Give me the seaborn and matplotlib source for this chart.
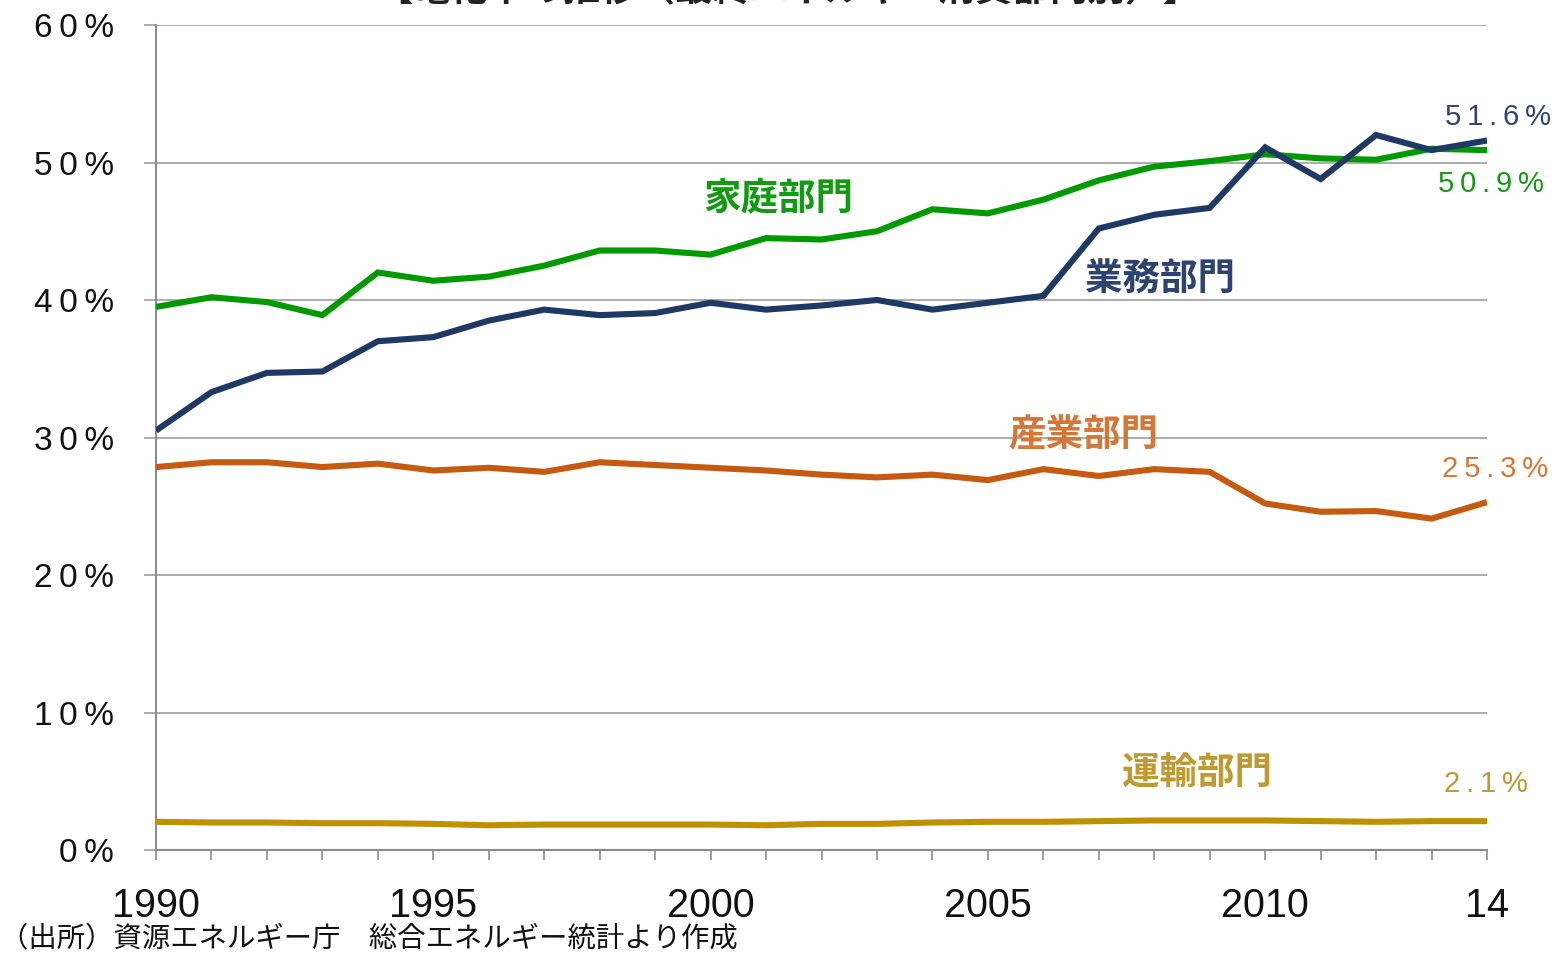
import matplotlib
matplotlib.use("Agg")
import matplotlib.pyplot as plt
import numpy as np
import pandas as pd
import seaborn as sns

years = list(range(1990, 2015))

household = [39.5, 40.2, 39.85, 38.9, 42.0, 41.4, 41.7, 42.5, 43.6, 43.6,
             43.3, 44.5, 44.4, 45.0, 46.6, 46.3, 47.3, 48.7, 49.7, 50.1,
             50.6, 50.3, 50.2, 51.0, 50.9]
commercial = [30.5, 33.3, 34.7, 34.8, 37.0, 37.3, 38.5, 39.3, 38.9, 39.05,
              39.8, 39.3, 39.6, 40.0, 39.3, 39.8, 40.3, 45.2, 46.2, 46.7,
              51.1, 48.8, 52.0, 50.9, 51.6]
industry = [27.85, 28.2, 28.2, 27.85, 28.1, 27.6, 27.8, 27.5, 28.2, 28.0,
            27.8, 27.6, 27.3, 27.1, 27.3, 26.9, 27.7, 27.2, 27.7, 27.5,
            25.2, 24.6, 24.65, 24.1, 25.3]
transport = [2.05, 2.0, 2.0, 1.95, 1.95, 1.9, 1.8, 1.85, 1.85, 1.85,
             1.85, 1.8, 1.9, 1.9, 2.0, 2.05, 2.05, 2.1, 2.15, 2.15,
             2.15, 2.1, 2.05, 2.1, 2.1]

sectors = ["家庭部門", "業務部門", "産業部門", "運輸部門"]
line_colors = ["#009A00", "#1F3864", "#C55A11", "#BF9000"]
text_colors = ["#129A12", "#2E4470", "#D4783A", "#BF9A30"]
end_labels = ["50.9%", "51.6%", "25.3%", "2.1%"]

x_ticks_labeled = [1990, 1995, 2000, 2005, 2010, 2014]
x_tick_text = ["1990", "1995", "2000", "2005", "2010", "14"]
y_ticks = [0, 10, 20, 30, 40, 50, 60]


def spaced(s, gap="\u2009"):
    """Open up the letter spacing of a short label."""
    return gap.join(s)


df = pd.DataFrame({
    "year": years * 4,
    "rate": household + commercial + industry + transport,
    "sector": sum([[s] * len(years) for s in sectors], []),
})

sns.set_theme(style="white")
plt.rcParams["font.family"] = ["Liberation Sans", "Noto Sans CJK JP", "DejaVu Sans"]

fig = plt.figure(figsize=(15.57, 9.55), dpi=100)
ax = fig.add_axes([156 / 1557, 1 - 850 / 955, (1487 - 156) / 1557, (850 - 25) / 955])

sns.lineplot(data=df, x="year", y="rate", hue="sector", hue_order=sectors,
             palette=line_colors, linewidth=4.4, legend=False, ax=ax,
             zorder=3)
for line in ax.lines:
    line.set_solid_capstyle("butt")
    line.set_solid_joinstyle("miter")

ax.set_xlim(1990, 2014)
ax.set_ylim(0, 60)
ax.set_xlabel("")
ax.set_ylabel("")

grid_col = "#A6A6A6"
ax.set_yticks(y_ticks)
ax.set_yticklabels([spaced(f"{v}%") for v in y_ticks])
ax.yaxis.grid(True, color=grid_col, linewidth=1.3, zorder=0)
ax.set_xticks(years, minor=True)
ax.set_xticks(x_ticks_labeled)
ax.set_xticklabels(x_tick_text)

for side in ["top", "right"]:
    ax.spines[side].set_visible(False)
for side in ["left", "bottom"]:
    ax.spines[side].set_color("#8C8C8C")
    ax.spines[side].set_linewidth(1.5)

ax.tick_params(axis="y", which="major", direction="out", length=9, width=1.3,
               color=grid_col, pad=21.5, labelsize=24, labelcolor="#111111", left=True)
ax.tick_params(axis="x", which="both", direction="out", length=7.5, width=1.2,
               color="#8C8C8C", pad=19, labelsize=28.5, labelcolor="#111111", bottom=True)

# Sector names placed beside their lines
name_pos = [(778, 198), (1160, 279), (1083, 435), (1197, 773)]
for name, col, (px, py) in zip(sectors, text_colors, name_pos):
    fig.text(px / 1557, 1 - py / 955, name, color=col, fontsize=27,
             fontweight="bold", ha="center", va="center",
             family=["Noto Sans CJK JP", "DejaVu Sans"])

# Latest-year values at the right end of each line
val_pos = [(1491, 184), (1498, 117), (1495, 469), (1486, 784)]
for lab, col, (px, py) in zip(end_labels, text_colors, val_pos):
    fig.text(px / 1557, 1 - py / 955, spaced(lab), color=col,
             fontsize=21, ha="center", va="center")

# Chart heading (runs off the top edge of the page)
fig.text(788 / 1557, 1 + 10 / 955, "【電化率の推移（最終エネルギー消費部門別）】",
         color="#222222", fontsize=27, fontweight="bold", ha="center",
         va="center", family=["Noto Sans CJK JP", "DejaVu Sans"])

# Source note
fig.text(0, 1 - 938 / 955, "（出所）資源エネルギー庁　総合エネルギー統計より作成",
         color="#111111", fontsize=20.4, ha="left", va="center",
         family=["Noto Sans CJK JP", "DejaVu Sans"])

fig.savefig("out.png", dpi=100)
